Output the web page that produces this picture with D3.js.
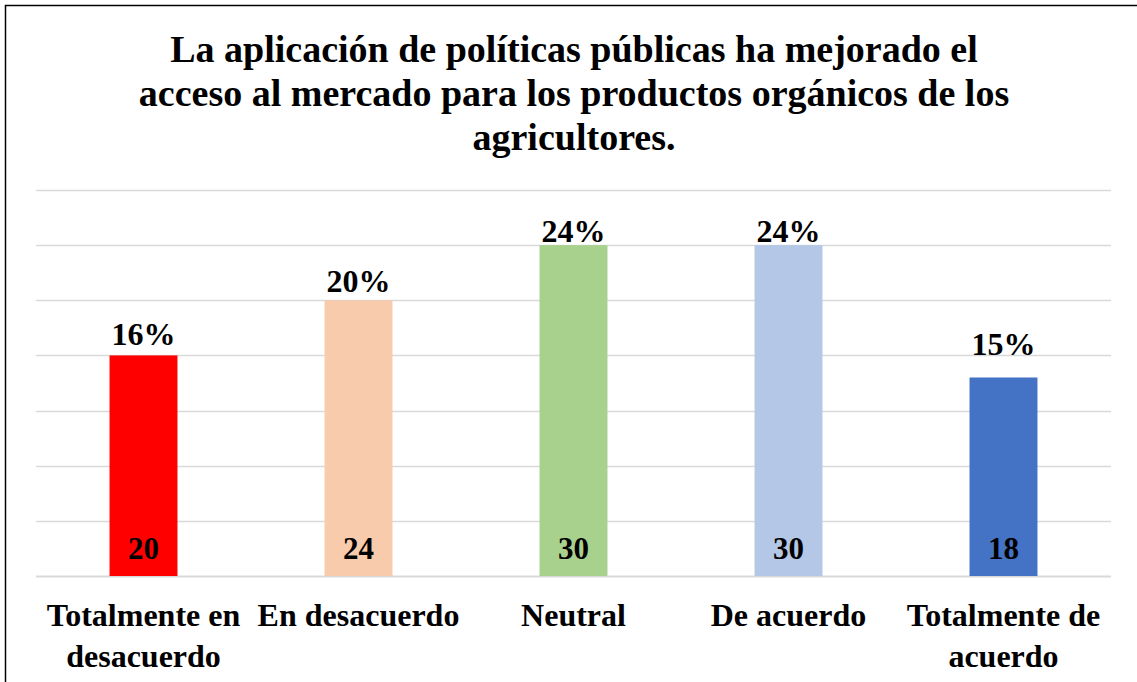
<!DOCTYPE html>
<html>
<head>
<meta charset="utf-8">
<script src="https://cdn.jsdelivr.net/npm/d3@7"></script>
<style>
  html, body { margin: 0; padding: 0; background: #fff; }
  svg text { font-family: "Liberation Serif", "Times New Roman", serif; font-weight: bold; fill: #000; }
</style>
</head>
<body>
<svg id="chart" width="1137" height="682"></svg>
<script>
// chart data
var titleLines = [
  "La aplicación de políticas públicas ha mejorado el",
  "acceso al mercado para los productos orgánicos de los",
  "agricultores."
];
var categories = ["Totalmente en desacuerdo", "En desacuerdo", "Neutral", "De acuerdo", "Totalmente de acuerdo"];
var categoryLines = [["Totalmente en", "desacuerdo"], ["En desacuerdo"], ["Neutral"], ["De acuerdo"], ["Totalmente de", "acuerdo"]];
// bar heights as drawn in the picture (the peach bar reaches the 25 gridline)
var barValues = [20, 25, 30, 30, 18];
var countLabels = ["20", "24", "30", "30", "18"];
var percents = ["16%", "20%", "24%", "24%", "15%"];
var colors = ["#ff0000", "#f8cbad", "#a9d18e", "#b4c7e7", "#4472c4"];
var gridTicks = [0, 5, 10, 15, 20, 25, 30, 35];
// how far above the bar top each percent label sits (as placed in the original)
var pctGap = [10, 8, 3, 3, 22];

var svg = d3.select("#chart"),
  width = +svg.attr("width"),
  height = +svg.attr("height"),
  margin = { top: 190, right: 26, bottom: 106, left: 36 };

// outer frame
svg.append("rect")
  .attr("x", 5.5).attr("y", 5.5)
  .attr("width", width + 20).attr("height", height + 20)
  .attr("fill", "none").attr("stroke", "#000").attr("stroke-width", 1.5);

// title
svg.append("text")
  .attr("text-anchor", "middle")
  .attr("font-size", 38)
  .selectAll("tspan")
  .data(titleLines)
  .join("tspan")
  .attr("x", 574)
  .attr("y", function (d, i) { return 62 + i * 44; })
  .text(function (d) { return d; });

var x = d3.scaleBand()
  .domain(categories)
  .range([margin.left, width - margin.right])
  .paddingInner(0.684)
  .paddingOuter(0.342);

var y = d3.scaleLinear()
  .domain([0, 35])
  .range([height - margin.bottom, margin.top]);

// gridlines
svg.append("g")
  .selectAll("line")
  .data(gridTicks)
  .join("line")
  .attr("x1", margin.left)
  .attr("x2", width - margin.right)
  .attr("y1", function (d) { return Math.round(y(d)) + 0.5; })
  .attr("y2", function (d) { return Math.round(y(d)) + 0.5; })
  .attr("stroke", "#d9d9d9")
  .attr("stroke-width", function (d) { return d === 0 ? 2 : 1.5; });

// bars
svg.append("g")
  .selectAll("rect")
  .data(barValues)
  .join("rect")
  .attr("x", function (d, i) { return x(categories[i]); })
  .attr("y", function (d) { return y(d); })
  .attr("width", x.bandwidth())
  .attr("height", function (d) { return y(0) - y(d); })
  .attr("fill", function (d, i) { return colors[i]; });

// percent labels above bars
svg.append("g")
  .attr("text-anchor", "middle")
  .attr("font-size", 32)
  .selectAll("text")
  .data(percents)
  .join("text")
  .attr("x", function (d, i) { return x(categories[i]) + x.bandwidth() / 2; })
  .attr("y", function (d, i) { return y(barValues[i]) - pctGap[i]; })
  .text(function (d) { return d; });

// counts inside the bars
svg.append("g")
  .attr("text-anchor", "middle")
  .attr("font-size", 31)
  .selectAll("text")
  .data(countLabels)
  .join("text")
  .attr("x", function (d, i) { return x(categories[i]) + x.bandwidth() / 2; })
  .attr("y", y(0) - 17)
  .text(function (d) { return d; });

// category labels
var cat = svg.append("g")
  .attr("text-anchor", "middle")
  .attr("font-size", 32)
  .selectAll("text")
  .data(categoryLines)
  .join("text");

cat.selectAll("tspan")
  .data(function (d, i) { return d.map(function (t) { return { t: t, i: i }; }); })
  .join("tspan")
  .attr("x", function (d) { return x(categories[d.i]) + x.bandwidth() / 2; })
  .attr("y", function (d, j) { return y(0) + 50 + j * 41; })
  .text(function (d) { return d.t; });
</script>
</body>
</html>
